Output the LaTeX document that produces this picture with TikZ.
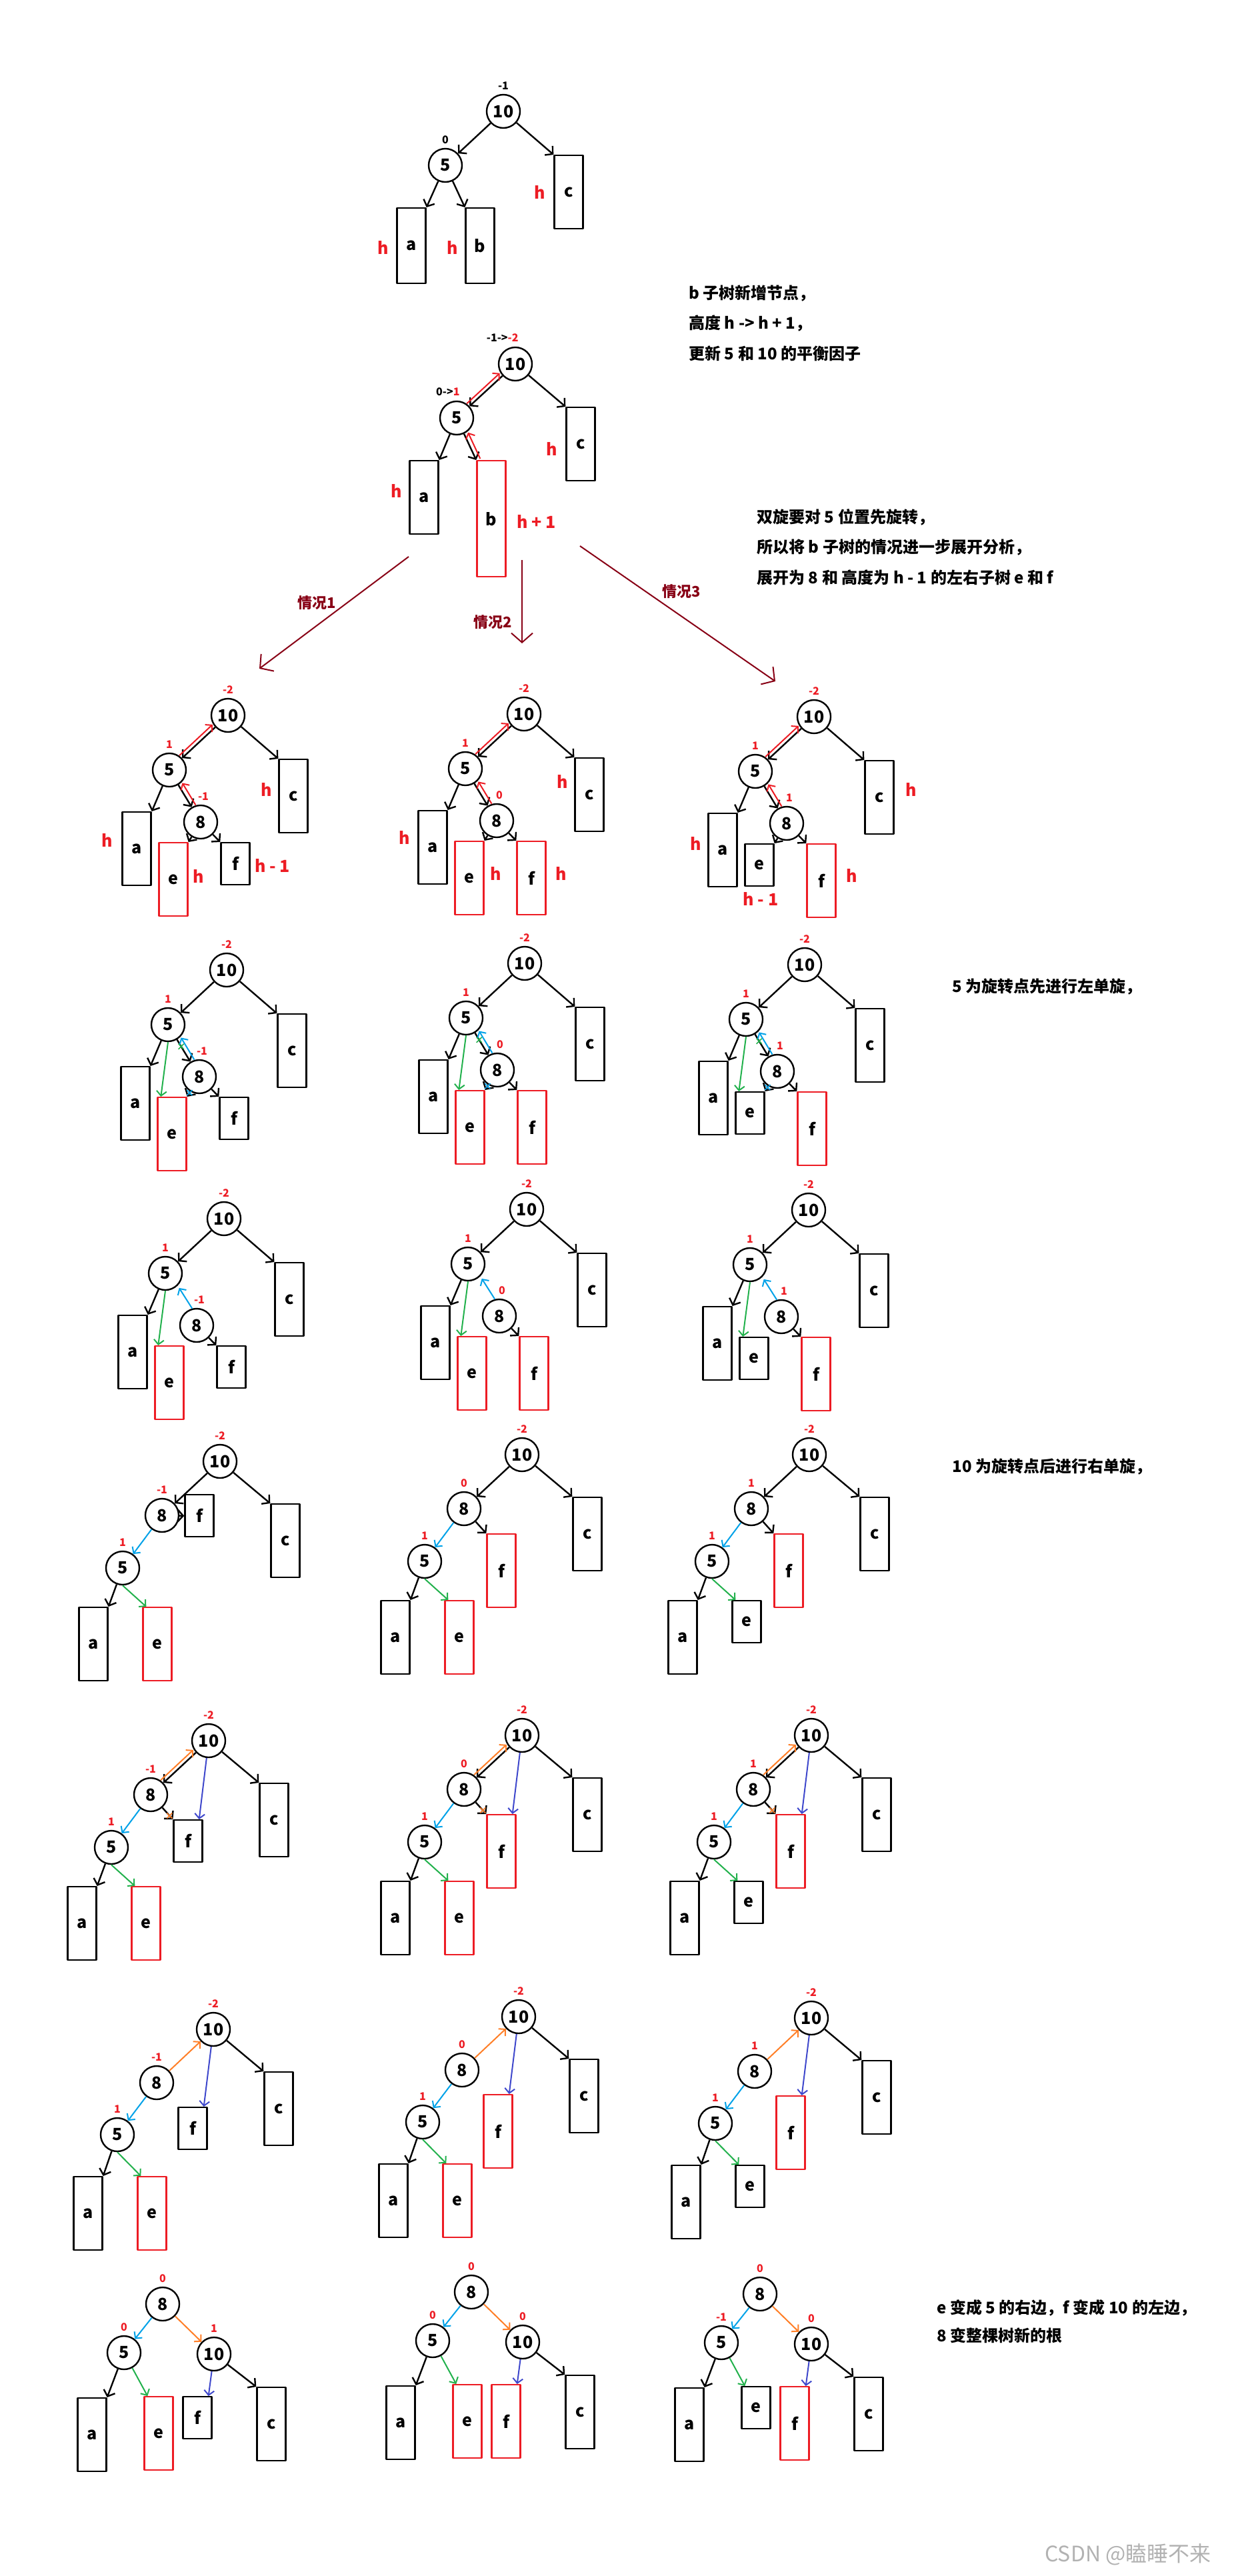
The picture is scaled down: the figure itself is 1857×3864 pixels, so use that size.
\documentclass[tikz,border=0pt]{standalone}
\usepackage{fontspec}
\setmainfont{Noto Sans CJK SC}
\usepackage{tikz}
\usetikzlibrary{arrows.meta,calc}
\usetikzlibrary{positioning}
\definecolor{pred}{HTML}{ED1C24}
\definecolor{pgreen}{HTML}{22B14C}
\definecolor{pblue}{HTML}{00A2E8}
\definecolor{porange}{HTML}{FF7F27}
\definecolor{pindigo}{HTML}{3F48CC}
\definecolor{pdark}{HTML}{880015}
\tikzset{vtx/.style={circle,draw,line width=1.2pt,minimum size=25pt,inner sep=0pt,font=\bfseries\fontsize{12.5}{13}\selectfont},
  subtree/.style={draw,line width=1.2pt,minimum width=21.5pt,inner sep=0pt,anchor=north,font=\bfseries\fontsize{12.5}{13}\selectfont},
  tallbox/.style={minimum height=55pt},
  lowbox/.style={minimum height=31.5pt},
  bal/.style={inner sep=0.5pt,anchor=south,font=\bfseries\fontsize{8}{9}\selectfont},
  hgt/.style={text=pred,inner sep=0pt,font=\bfseries\fontsize{12.5}{13}\selectfont},
  tr/.style={-{Straight Barb[length=4pt,width=9pt]},line width=1.2pt},
  mv/.style={-{Straight Barb[length=3.5pt,width=7.5pt]},line width=1pt},
  xmark/.style={line width=0.8pt},
  caseline/.style={pdark,line width=1pt,-{Straight Barb[length=7pt,width=16pt]}},
  casetxt/.style={text=pdark,font=\bfseries\fontsize{11}{12}\selectfont},
  note/.style={anchor=west,inner sep=0pt,font=\bfseries\fontsize{12}{14}\selectfont}}

\begin{document}
\begin{tikzpicture}[x=0.5pt,y=-0.5pt,line join=round]
\fill[white] (0,0) rectangle (1857,3864);
\useasboundingbox (0,0) rectangle (1857,3864);
% --- start: 10 with left child 5
\node[vtx] (t1-10) at (755,167) {10};
\node[vtx] (t1-5) at (668,248) {5};
\node[subtree,tallbox] (t1-c) at (853,232) {c};
\node[subtree,minimum height=56.5pt] (t1-a) at (617,311) {a};
\node[subtree,minimum height=56.5pt] (t1-b) at (720,311) {b};
\node[bal] (t1-b10) at ([yshift=2.5pt]t1-10.north) {-1};
\node[bal] (t1-b5) at ([yshift=2.5pt]t1-5.north) {0};
\node[hgt] (t1-hc) at ($(t1-c.west)+(-21,0)$) {h};
\node[hgt] (t1-ha) at ($(t1-a.west)+(-20,3)$) {h};
\node[hgt] (t1-hb) at ($(t1-b.west)+(-19,3)$) {h};
\draw[tr] (t1-10) -- (t1-5);
\draw[tr] (t1-10) -- (t1-c.north west);
\draw[tr] (t1-5) -- (t1-a.north east);
\draw[tr] (t1-5) -- (t1-b.north west);
% --- insert into b, factors go up
\node[vtx] (t2-10) at (773,546) {10};
\node[vtx] (t2-5) at (685,627) {5};
\node[subtree,tallbox] (t2-c) at (871,610) {c};
\node[subtree,tallbox] (t2-a) at (636,690) {a};
\node[subtree,minimum height=87pt,draw=pred] (t2-b) at (737,690) {b};
\node[bal,anchor=south east] (t2-b10) at ([xshift=3pt,yshift=3pt]t2-10.north) {-1->\textcolor{pred}{-2}};
\node[bal,anchor=south east] (t2-b5) at ([xshift=3pt,yshift=3pt]t2-5.north) {0->\textcolor{pred}{1}};
\node[hgt] (t2-hc) at ($(t2-c.west)+(-21,7)$) {h};
\node[hgt] (t2-ha) at ($(t2-a.west)+(-19,-10)$) {h};
\node[hgt,anchor=west] (t2-hb) at ($(t2-b.east)+(15,4)$) {h + 1};
\draw[tr] (t2-10) -- (t2-5);
\draw[tr] (t2-10) -- (t2-c.north west);
\draw[tr] (t2-5) -- (t2-a.north east);
\draw[tr] (t2-5) -- (t2-b.north west);
\draw[mv,pred,transform canvas={shift={(-2pt,2pt)}}] (t2-5) -- (t2-10);
\draw[mv,pred,transform canvas={shift={(3pt,1pt)}}] (t2-b.north west) -- (t2-5);
% --- notes
\node[note] (t-n1) at (1033,440) {b 子树新增节点，};
\node[note] (t-n2) at (1033,485) {高度 h -> h + 1，};
\node[note] (t-n3) at (1033,530) {更新 5 和 10 的平衡因子};
\node[note] (t-n4) at (1135,776) {双旋要对 5 位置先旋转，};
\node[note] (t-n5) at (1135,821) {所以将 b 子树的情况进一步展开分析，};
\node[note] (t-n6) at (1135,866) {展开为 8 和 高度为 h - 1 的左右子树 e 和 f};
\node[note] (t-n7) at (1428,1480) {5 为旋转点先进行左单旋，};
\node[note] (t-n8) at (1428,2200) {10 为旋转点后进行右单旋，};
\node[note] (t-n9) at (1405,3462) {e 变成 5 的右边，f 变成 10 的左边，};
\node[note] (t-n10) at (1405,3503) {8 变整棵树新的根};
\node[text=gray!60,font=\fontsize{16}{17}\selectfont] (wm) at (1692,3832) {CSDN @瞌睡不来};
% --- three cases
\coordinate (k1s) at (613,835); \coordinate (k1e) at (389,1003);
\coordinate (k2s) at (783,840); \coordinate (k2e) at (783,965);
\coordinate (k3s) at (870,819); \coordinate (k3e) at (1163,1022);
\draw[caseline] (k1s) -- (k1e);
\draw[caseline] (k2s) -- (k2e);
\draw[caseline] (k3s) -- (k3e);
\node[casetxt] (k1) at (475,904) {情况1};
\node[casetxt] (k2) at (739,933) {情况2};
\node[casetxt] (k3) at (1022,887) {情况3};
% --- row 3: b split into 8, e, f
\foreach \col/\px/\py/\bfc/\ec/\eh/\fc/\fh in {a/342/1073/-1/pred/tallbox/black/lowbox,b/786/1071/0/pred/tallbox/pred/tallbox,c/1221/1075/1/black/lowbox/pred/tallbox}{
\begin{scope}[shift={(\px,\py)},name prefix=r3\col-]
\node[vtx] (n10) at (0,0) {10};
\node[vtx] (n5) at (-88,82) {5};
\node[vtx] (n8) at (-41,160) {8};
\node[subtree,tallbox] (c) at (98,65) {c};
\node[subtree,tallbox] (a) at (-137,144) {a};
\node[subtree,\eh,draw=\ec] (e) at (-82,190) {e};
\node[subtree,\fh,draw=\fc] (f) at (11,190) {f};
\node[bal,pred] (b10) at ([yshift=2.5pt]n10.north) {-2};
\node[bal,pred] (b5) at ([yshift=2.5pt]n5.north) {1};
\node[bal,pred] (b8) at ([xshift=2pt,yshift=2.5pt]n8.north) {\bfc};
\draw[tr] (n10) -- (n5);
\draw[tr] (n10) -- (c.north west);
\draw[tr] (n5) -- (a.north east);
\draw[tr] (n5) -- (n8);
\draw[tr] (n8) -- (e.north east);
\draw[tr] (n8) -- (f.north west);
\draw[mv,pred,transform canvas={shift={(-2pt,2pt)}}] (n5) -- (n10);
\draw[mv,pred,transform canvas={shift={(3pt,1.5pt)}}] (n8) -- (n5);
\end{scope}}
\node[hgt] (r3a-hc) at ($(r3a-c.west)+(-18,-10)$) {h};
\node[hgt] (r3a-ha) at ($(r3a-a.west)+(-22,-13)$) {h};
\node[hgt] (r3a-he) at ($(r3a-e.east)+(15,-5)$) {h};
\node[hgt,anchor=west] (r3a-hf) at ($(r3a-f.east)+(6,3)$) {h - 1};
\node[hgt] (r3b-hc) at ($(r3b-c.west)+(-18,-20)$) {h};
\node[hgt] (r3b-ha) at ($(r3b-a.west)+(-20,-15)$) {h};
\node[hgt] (r3b-he) at ($(r3b-e.east)+(17,-7)$) {h};
\node[hgt] (r3b-hf) at ($(r3b-f.east)+(22,-7)$) {h};
\node[hgt] (r3c-hc) at ($(r3c-c.east)+(25,-12)$) {h};
\node[hgt] (r3c-ha) at ($(r3c-a.west)+(-18,-10)$) {h};
\node[hgt] (r3c-he) at ($(r3c-e.south)+(2,18)$) {h - 1};
\node[hgt] (r3c-hf) at ($(r3c-f.east)+(23,-8)$) {h};
% --- row 4: left rotation at 5, links to change
\foreach \col/\px/\py/\bfc/\ec/\eh/\fc/\fh in {a/340/1455/-1/pred/tallbox/black/lowbox,b/787/1445/0/pred/tallbox/pred/tallbox,c/1207/1447/1/black/lowbox/pred/tallbox}{
\begin{scope}[shift={(\px,\py)},name prefix=r4\col-]
\node[vtx] (n10) at (0,0) {10};
\node[vtx] (n5) at (-88,82) {5};
\node[vtx] (n8) at (-41,160) {8};
\node[subtree,tallbox] (c) at (98,65) {c};
\node[subtree,tallbox] (a) at (-137,144) {a};
\node[subtree,\eh,draw=\ec] (e) at (-82,190) {e};
\node[subtree,\fh,draw=\fc] (f) at (11,190) {f};
\node[bal,pred] (b10) at ([yshift=2.5pt]n10.north) {-2};
\node[bal,pred] (b5) at ([yshift=2.5pt]n5.north) {1};
\node[bal,pred] (b8) at ([xshift=2pt,yshift=2.5pt]n8.north) {\bfc};
\draw[tr] (n10) -- (n5);
\draw[tr] (n10) -- (c.north west);
\draw[tr] (n5) -- (a.north east);
\draw[tr] (n5) -- (n8);
\draw[tr] (n8) -- (e.north east);
\draw[tr] (n8) -- (f.north west);
\draw[mv,pgreen] (n5.south) -- ([xshift=3pt]e.north west);
\draw[mv,pblue,transform canvas={shift={(3pt,1.5pt)}}] (n8) -- (n5);
\draw[xmark,pgreen] ($(n5)!0.42!(n8)$) +(-2pt,-2pt) -- +(2pt,2pt) +(-2pt,2pt) -- +(2pt,-2pt);
\draw[xmark,pblue] ($(n8)!0.8!(e.north east)$) +(-2pt,-2pt) -- +(2pt,2pt) +(-2pt,2pt) -- +(2pt,-2pt);
\end{scope}}
% --- row 5: 5 takes e, 8 points to 5
\foreach \col/\px/\py/\bfc/\ec/\eh/\fc/\fh in {a/336/1828/-1/pred/tallbox/black/lowbox,b/790/1814/0/pred/tallbox/pred/tallbox,c/1213/1815/1/black/lowbox/pred/tallbox}{
\begin{scope}[shift={(\px,\py)},name prefix=r5\col-]
\node[vtx] (n10) at (0,0) {10};
\node[vtx] (n5) at (-88,82) {5};
\node[vtx] (n8) at (-41,160) {8};
\node[subtree,tallbox] (c) at (98,65) {c};
\node[subtree,tallbox] (a) at (-137,144) {a};
\node[subtree,\eh,draw=\ec] (e) at (-82,190) {e};
\node[subtree,\fh,draw=\fc] (f) at (11,190) {f};
\node[bal,pred] (b10) at ([yshift=2.5pt]n10.north) {-2};
\node[bal,pred] (b5) at ([yshift=2.5pt]n5.north) {1};
\node[bal,pred] (b8) at ([xshift=2pt,yshift=2.5pt]n8.north) {\bfc};
\draw[tr] (n10) -- (n5);
\draw[tr] (n10) -- (c.north west);
\draw[tr] (n5) -- (a.north east);
\draw[tr] (n8) -- (f.north west);
\draw[mv,pgreen] (n5.south) -- ([xshift=3pt]e.north west);
\draw[mv,pblue,shorten >=2pt] (n8.105) -- (n5.-45);
\end{scope}}
% --- row 6: 8 under 10
\foreach \col/\px/\py/\bfc/\ec/\eh/\fc/\fh/\ft/\fa in {a/330/2192/-1/pred/tallbox/black/lowbox/49/west,b/783/2182/0/pred/tallbox/pred/tallbox/118/north west,c/1214/2182/1/black/lowbox/pred/tallbox/118/north west}{
\begin{scope}[shift={(\px,\py)},name prefix=r6\col-]
\node[vtx] (n10) at (0,0) {10};
\node[vtx] (n8) at (-87,81) {8};
\node[vtx] (n5) at (-146,160) {5};
\node[subtree,tallbox] (c) at (98,63) {c};
\node[subtree,\fh,draw=\fc] (f) at (-31,\ft) {f};
\node[subtree,tallbox] (a) at (-190,218) {a};
\node[subtree,\eh,draw=\ec] (e) at (-94,218) {e};
\node[bal,pred] (b10) at ([yshift=2.5pt]n10.north) {-2};
\node[bal,pred] (b8) at ([yshift=2.5pt]n8.north) {\bfc};
\node[bal,pred] (b5) at ([yshift=2.5pt]n5.north) {1};
\draw[tr] (n10) -- (n8);
\draw[tr] (n10) -- (c.north west);
\draw[tr] (n8) -- (f.\fa);
\draw[tr] (n5) -- (a.north east);
\draw[mv,pblue] (n8) -- (n5);
\draw[mv,pgreen] (n5.south) -- ([xshift=3pt]e.north west);
\end{scope}}
% --- row 7: right rotation at 10, links to change
\foreach \col/\px/\py/\bfc/\ec/\eh/\fc/\fh in {a/313/2611/-1/pred/tallbox/black/lowbox,b/783/2603/0/pred/tallbox/pred/tallbox,c/1217/2603/1/black/lowbox/pred/tallbox}{
\begin{scope}[shift={(\px,\py)},name prefix=r7\col-]
\node[vtx] (n10) at (0,0) {10};
\node[vtx] (n8) at (-87,81) {8};
\node[vtx] (n5) at (-146,160) {5};
\node[subtree,tallbox] (c) at (98,63) {c};
\node[subtree,\fh,draw=\fc] (f) at (-31,118) {f};
\node[subtree,tallbox] (a) at (-190,218) {a};
\node[subtree,\eh,draw=\ec] (e) at (-94,218) {e};
\node[bal,pred] (b10) at ([yshift=2.5pt]n10.north) {-2};
\node[bal,pred] (b8) at ([yshift=2.5pt]n8.north) {\bfc};
\node[bal,pred] (b5) at ([yshift=2.5pt]n5.north) {1};
\draw[tr] (n10) -- (n8);
\draw[mv,porange,transform canvas={shift={(-2pt,2pt)}}] (n8) -- (n10);
\draw[tr] (n10) -- (c.north west);
\draw[tr] (n8) -- (f.north west);
\draw[xmark,porange] ($(n8)!0.85!(f.north west)$) +(-2pt,-2pt) -- +(2pt,2pt) +(-2pt,2pt) -- +(2pt,-2pt);
\draw[mv,pindigo] (n10) -- ([xshift=-3pt]f.north east);
\draw[tr] (n5) -- (a.north east);
\draw[mv,pblue] (n8) -- (n5);
\draw[mv,pgreen] (n5.south) -- ([xshift=3pt]e.north west);
\end{scope}}
% --- row 8: 10 takes f, 8 points to 10
\foreach \col/\px/\py/\bfc/\ec/\eh/\fc/\fh in {a/320/3044/-1/pred/tallbox/black/lowbox,b/778/3025/0/pred/tallbox/pred/tallbox,c/1217/3027/1/black/lowbox/pred/tallbox}{
\begin{scope}[shift={(\px,\py)},name prefix=r8\col-]
\node[vtx] (n10) at (0,0) {10};
\node[vtx] (n8) at (-85,80) {8};
\node[vtx] (n5) at (-144,158) {5};
\node[subtree,tallbox] (c) at (98,63) {c};
\node[subtree,\fh,draw=\fc] (f) at (-31,116) {f};
\node[subtree,tallbox] (a) at (-188,220) {a};
\node[subtree,\eh,draw=\ec] (e) at (-92,220) {e};
\node[bal,pred] (b10) at ([yshift=2.5pt]n10.north) {-2};
\node[bal,pred] (b8) at ([yshift=2.5pt]n8.north) {\bfc};
\node[bal,pred] (b5) at ([yshift=2.5pt]n5.north) {1};
\draw[mv,porange] (n8) -- (n10);
\draw[tr] (n10) -- (c.north west);
\draw[mv,pindigo] (n10) -- ([xshift=-3pt]f.north east);
\draw[tr] (n5) -- (a.north east);
\draw[mv,pblue] (n8) -- (n5);
\draw[mv,pgreen] (n5.south) -- ([xshift=3pt]e.north west);
\end{scope}}
% --- row 9: 8 is the new root
\foreach \col/\px/\py/\lfive/\lten/\ec/\eh/\fc/\fh in {a/244/3456/0/1/pred/tallbox/black/lowbox,b/707/3438/0/0/pred/tallbox/pred/tallbox,c/1140/3441/-1/0/black/lowbox/pred/tallbox}{
\begin{scope}[shift={(\px,\py)},name prefix=r9\col-]
\node[vtx] (n8) at (0,0) {8};
\node[vtx] (n5) at (-58,73) {5};
\node[vtx] (n10) at (77,75) {10};
\node[subtree,tallbox] (a) at (-106,140) {a};
\node[subtree,\eh,draw=\ec] (e) at (-6,138) {e};
\node[subtree,\fh,draw=\fc] (f) at (52,138) {f};
\node[subtree,tallbox] (c) at (163,124) {c};
\node[bal,pred] (b8) at ([yshift=2.5pt]n8.north) {0};
\node[bal,pred] (b5) at ([yshift=2.5pt]n5.north) {\lfive};
\node[bal,pred] (b10) at ([yshift=2.5pt]n10.north) {\lten};
\draw[mv,pblue] (n8) -- (n5);
\draw[mv,porange] (n8) -- (n10);
\draw[tr] (n5) -- (a.north east);
\draw[mv,pgreen] (n5) -- ([xshift=3pt]e.north west);
\draw[mv,pindigo] (n10) -- ([xshift=-3pt]f.north east);
\draw[tr] (n10) -- (c.north west);
\end{scope}}
\end{tikzpicture}
\end{document}
